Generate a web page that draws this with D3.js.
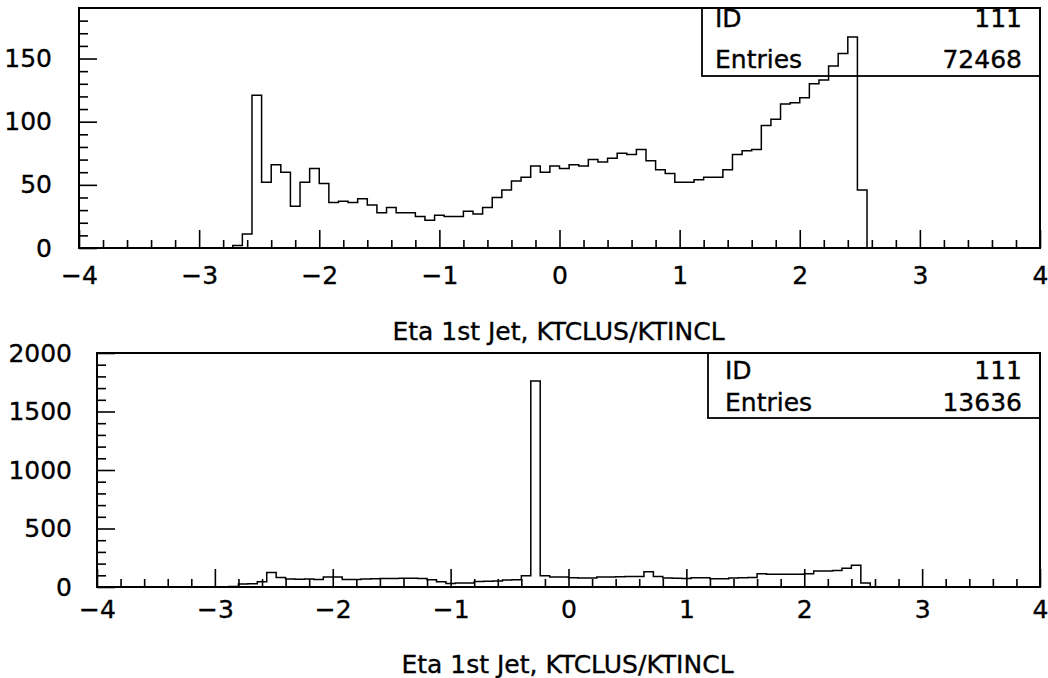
<!DOCTYPE html>
<html><head><meta charset="utf-8">
<script src="https://cdn.jsdelivr.net/npm/d3@7"></script>
<style>
html,body{margin:0;padding:0;background:#fff;}
svg{display:block;font-family:"DejaVu Sans",sans-serif;}
svg text{stroke:#000;stroke-width:0.35px;}
</style></head><body>
<svg id="chart" width="1048" height="678"></svg>
<script>
// Histogram range: 100 equal bins between -4 and 4
const binRange = [-4, 4];

// Bin contents, upper histogram
const upperCounts = [
  0,0,0,0,0,0,0,0,0,0,0,0,0,0,0,0,
  2,11,121,52,66,60,33,52,63,51,36,37,36,39,34,28,32,28,28,25,22,26,25,25,
  29,27,32,40,46,53,56,65,60,65,63,66,65,70,68,71,75,74,78,69,62,59,52,52,
  54,56,56,62,74,77,78,97,102,114,115,119,130,133,144,154,167,46,
  0,0,0,0,0,0,0,0,0,0,0,0,0,0,0,0,0,0
];

// Bin contents, lower histogram
const lowerCounts = [
  0,0,0,0,0,0,0,0,0,0,0,0,0,0,
  4,25,28,45,123,82,68,67,68,64,85,85,64,64,68,70,72,73,74,74,73,63,45,30,
  34,34,46,50,52,60,62,97,1760,97,86,86,78,77,76,86,86,88,89,89,130,90,76,75,
  73,80,80,70,70,76,80,82,114,110,110,108,108,114,137,137,140,160,186,34,
  0,0,0,0,0,0,0,0,0,0,0,0,0,0,0,0,0,0
];

const xMajorTicks = [-4, -3, -2, -1, 0, 1, 2, 3, 4];
const upperYTicks = [0, 50, 100, 150];
const lowerYTicks = [0, 500, 1000, 1500, 2000];
const axisTitle = "Eta 1st Jet, KTCLUS/KTINCL";
const statLabels = ["ID", "Entries"];
const upperStats = ["111", "72468"];
const lowerStats = ["111", "13636"];

const panels = [
  { counts: upperCounts, yMax: 190, yMinor: 10, yTicks: upperYTicks, stats: upperStats,
    left: 79, right: 1040, top: 8, bottom: 248,
    boxLeft: 702, boxBottom: 76, statRows: [27, 68], statX: 715,
    xPad: 18, yPad: 27, titleY: 340 },
  { counts: lowerCounts, yMax: 2000, yMinor: 100, yTicks: lowerYTicks, stats: lowerStats,
    left: 97, right: 1040, top: 353, bottom: 587,
    boxLeft: 708, boxBottom: 418, statRows: [379, 411], statX: 725,
    xPad: 13, yPad: 25, titleY: 673 }
];

const svg = d3.select("#chart");
const FONT = 25;
const fmt = d3.format("d");

panels.forEach(p => {
  const g = svg.append("g");
  const x = d3.scaleLinear().domain(binRange).range([p.left, p.right]);
  const y = d3.scaleLinear().domain([0, p.yMax]).range([p.bottom, p.top]);

  // minor ticks (no labels)
  const xMinor = d3.range(binRange[0], binRange[1] + 1e-9, 0.2)
    .filter(v => Math.abs(v - Math.round(v)) > 1e-6);
  g.append("g")
    .attr("transform", `translate(0,${p.bottom})`)
    .call(d3.axisBottom(x).tickValues(xMinor).tickSize(-8).tickSizeOuter(0).tickFormat(""))
    .call(a => a.select(".domain").remove());
  const yMinor = d3.range(0, p.yMax + 1e-9, p.yMinor)
    .filter(v => !p.yTicks.includes(v) && v < p.yMax);
  g.append("g")
    .attr("transform", `translate(${p.left},0)`)
    .call(d3.axisLeft(y).tickValues(yMinor).tickSize(-9).tickSizeOuter(0).tickFormat(""))
    .call(a => a.select(".domain").remove());

  // major ticks with labels
  g.append("g")
    .attr("transform", `translate(0,${p.bottom})`)
    .call(d3.axisBottom(x).tickValues(xMajorTicks).tickSize(-18).tickSizeOuter(0)
      .tickPadding(p.xPad).tickFormat(fmt))
    .call(a => a.select(".domain").remove());
  g.append("g")
    .attr("transform", `translate(${p.left},0)`)
    .call(d3.axisLeft(y).tickValues(p.yTicks).tickSize(-18).tickSizeOuter(0)
      .tickPadding(p.yPad).tickFormat(fmt))
    .call(a => a.select(".domain").remove());

  g.selectAll(".tick line").attr("stroke", "#000").attr("stroke-width", 1.6);
  g.selectAll(".tick text").attr("fill", "#000").attr("font-size", FONT)
    .attr("font-family", "DejaVu Sans, sans-serif");

  // histogram outline
  const nb = p.counts.length;
  const edge = k => binRange[0] + (binRange[1] - binRange[0]) * k / nb;
  const pts = p.counts.map((c, k) => [edge(k), c]);
  pts.push([binRange[1], 0]);
  const line = d3.line().x(d => x(d[0])).y(d => y(d[1])).curve(d3.curveStepAfter);
  g.append("path").attr("d", line(pts))
    .attr("fill", "none").attr("stroke", "#000").attr("stroke-width", 1.5);

  // frame
  g.append("rect")
    .attr("x", p.left).attr("y", p.top)
    .attr("width", p.right - p.left).attr("height", p.bottom - p.top)
    .attr("fill", "none").attr("stroke", "#000").attr("stroke-width", 2);

  // statistics box
  g.append("rect")
    .attr("x", p.boxLeft).attr("y", p.top)
    .attr("width", p.right - p.boxLeft).attr("height", p.boxBottom - p.top)
    .attr("fill", "none").attr("stroke", "#000").attr("stroke-width", 1.8);
  statLabels.forEach((lab, i) => {
    g.append("text").attr("x", p.statX).attr("y", p.statRows[i])
      .attr("font-size", FONT).text(lab);
    g.append("text").attr("x", p.right - 18).attr("y", p.statRows[i])
      .attr("font-size", FONT).attr("text-anchor", "end").text(p.stats[i]);
  });

  // axis title
  g.append("text").attr("x", (p.left + p.right) / 2 - 1).attr("y", p.titleY)
    .attr("font-size", FONT).attr("text-anchor", "middle").text(axisTitle);
});
</script>
</body></html>
